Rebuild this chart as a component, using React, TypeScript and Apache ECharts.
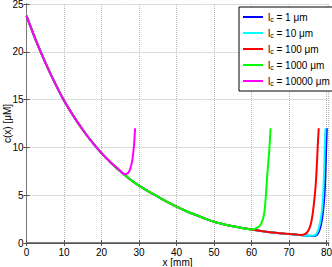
import React, { useEffect, useRef } from "react";
import * as echarts from "echarts";

const baseX = [0, 2.5, 5, 7.5, 10, 12.5, 15, 17.5, 20, 22.5, 25, 27.5, 30, 32.5, 35, 37.5, 40, 42.5, 45, 47.5, 50, 52.5, 55, 57.5, 60, 62.5, 65, 67.5, 70];
const baseY = [23.75, 21.2, 18.9, 16.8, 14.9, 13.3, 11.85, 10.55, 9.4, 8.4, 7.5, 6.7, 6.0, 5.4, 4.85, 4.3, 3.8, 3.35, 2.95, 2.58, 2.22, 1.97, 1.76, 1.58, 1.42, 1.26, 1.12, 1.01, 0.93];

const lcLabels = ["1", "10", "100", "1000", "10000"];
const colors = ["#0000ff", "#00ffff", "#ff0000", "#00ff00", "#ff00ff"];
const cutoffs = [70, 70, 70, 60, 22.5];

const blueTailX = [72, 74, 76.3, 77.3, 78.0, 78.6, 79.05, 79.4, 79.65, 79.87, 80.05];
const blueTailY = [0.87, 0.78, 0.74, 0.81, 1.25, 2.1, 3.3, 4.9, 6.9, 9.9, 12];
const cyanTailX = [72, 74, 76, 77.0, 77.7, 78.3, 78.75, 79.07, 79.3, 79.5, 79.7];
const cyanTailY = [0.87, 0.79, 0.76, 0.83, 1.3, 2.2, 3.4, 5.0, 7.0, 10.0, 12];
const redTailX = [72, 73.5, 74.8, 75.7, 76.3, 76.85, 77.2, 77.45, 77.65, 77.9];
const redTailY = [0.88, 0.84, 1.1, 1.85, 3.1, 5.0, 6.7, 8.6, 10.3, 12];
const greenTailX = [61, 62.3, 63.0, 63.4, 63.7, 64.0, 64.35, 64.7, 65.05];
const greenTailY = [1.5, 1.85, 2.5, 3.2, 4.4, 6.1, 8.0, 9.6, 12];
const magentaTailX = [24.2, 25.2, 26.2, 27.0, 27.5, 27.9, 28.2, 28.5, 28.7, 28.95];
const magentaTailY = [7.85, 7.45, 7.19, 7.3, 7.6, 8.1, 8.65, 9.6, 10.4, 12];

const tailsX = [blueTailX, cyanTailX, redTailX, greenTailX, magentaTailX];
const tailsY = [blueTailY, cyanTailY, redTailY, greenTailY, magentaTailY];

const xTicks = { min: 0, max: 80.5, interval: 10 };
const yTicks = { min: 0, max: 25, interval: 5 };

function buildSeries(i: number): number[][] {
  const pts: number[][] = [];
  baseX.forEach((x, k) => {
    if (x <= cutoffs[i]) pts.push([x, baseY[k]]);
  });
  tailsX[i].forEach((x, k) => pts.push([x, tailsY[i][k]]));
  return pts;
}

const FONT = "Liberation Sans, Arial, sans-serif";

export default function App() {
  const ref = useRef<HTMLDivElement>(null);
  useEffect(() => {
    if (!ref.current) return;
    const chart = echarts.init(ref.current, undefined, { renderer: "svg" });
    const names = lcLabels.map((v) => `lc = ${v} μm`);
    const option: any = {
      animation: false,
      backgroundColor: "#ffffff",
      grid: { left: 26.5, right: 3.5, top: 4, bottom: 24, containLabel: false, outerBoundsMode: "none" },
      legend: {
        orient: "vertical",
        left: 239,
        top: 7,
        padding: [4, 5, 4, 4],
        itemWidth: 20,
        itemHeight: 2,
        itemGap: 4,
        icon: "rect",
        borderColor: "#000",
        borderWidth: 1,
        backgroundColor: "#fff",
        data: names,
        formatter: (name: string) => {
          const v = lcLabels[names.indexOf(name)];
          return `{a|l}{s|c}{a| = ${v} μm}`;
        },
        textStyle: {
          fontFamily: FONT,
          color: "#000",
          rich: {
            a: { fontSize: 10, fontFamily: FONT, lineHeight: 12, color: "#000" },
            s: { fontSize: 7, fontFamily: FONT, lineHeight: 12, verticalAlign: "bottom", padding: [5, 0, 0, 0], color: "#000" },
          },
        },
      },
      xAxis: [
        {
          type: "value",
          ...xTicks,
          name: "x [mm]",
          nameLocation: "middle",
          nameGap: 14,
          nameMoveOverlap: false,
          nameTextStyle: { fontFamily: FONT, fontSize: 10, color: "#000" },
          axisLine: { show: true, lineStyle: { color: "#808080", width: 2 } },
          axisTick: { show: true, inside: true, length: 3, lineStyle: { color: "#555" } },
          axisLabel: { fontFamily: FONT, fontSize: 10, color: "#000", margin: 4 },
          splitLine: { show: true, lineStyle: { type: "dotted", color: "#b8b8b8", width: 1 } },
        },
        {
          type: "value",
          ...xTicks,
          position: "top",
          axisLine: { show: true, lineStyle: { color: "#555", width: 1 } },
          axisTick: { show: true, inside: true, length: 3, lineStyle: { color: "#555" } },
          axisLabel: { show: false },
          splitLine: { show: false },
        },
      ],
      yAxis: [
        {
          type: "value",
          ...yTicks,
          name: "c(x) [μM]",
          nameLocation: "middle",
          nameGap: 14,
          nameMoveOverlap: false,
          nameTextStyle: { fontFamily: FONT, fontSize: 10, color: "#000" },
          axisLine: { show: true, lineStyle: { color: "#222", width: 1 } },
          axisTick: { show: true, inside: true, length: 3, lineStyle: { color: "#555" } },
          axisLabel: { fontFamily: FONT, fontSize: 10, color: "#000", margin: 3 },
          splitLine: { show: true, lineStyle: { type: "dotted", color: "#b8b8b8", width: 1 } },
        },
        {
          type: "value",
          ...yTicks,
          position: "right",
          axisLine: { show: true, lineStyle: { color: "#777", width: 1 } },
          axisTick: { show: true, inside: true, length: 3, lineStyle: { color: "#555" } },
          axisLabel: { show: false },
          splitLine: { show: false },
        },
      ],
      series: names.map((name, i) => ({
        name,
        type: "line",
        data: buildSeries(i),
        showSymbol: false,
        symbol: "none",
        smooth: 0.3,
        lineStyle: { color: colors[i], width: 2 },
        itemStyle: { color: colors[i] },
        z: 2 + i,
      })),
    };
    chart.setOption(option);
    return () => chart.dispose();
  }, []);
  return <div ref={ref} style={{ width: 332, height: 267, position: "absolute", left: 0, top: 0 }} />;
}
